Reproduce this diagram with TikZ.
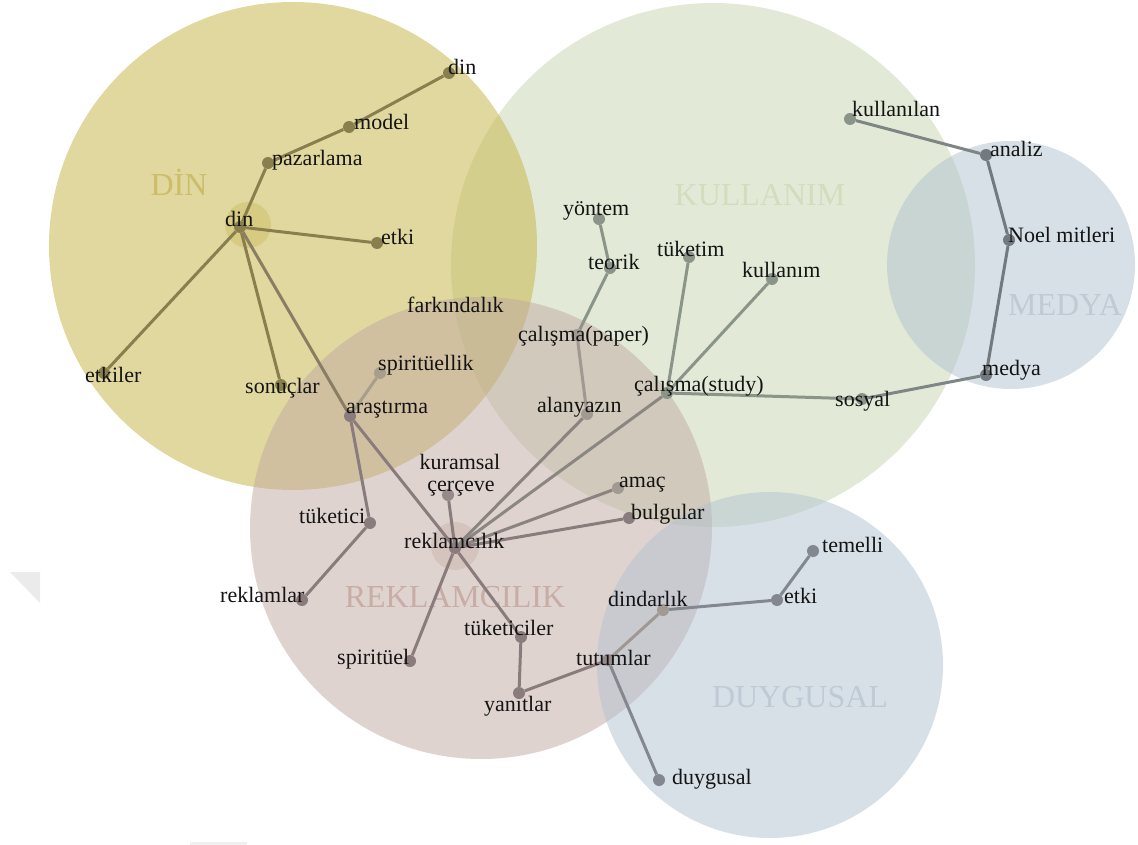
\documentclass[tikz,border=0pt]{standalone}
\usepackage{fontspec}
\setmainfont{Liberation Serif}
% zone fills (drawn at half opacity)
\definecolor{kulz}{RGB}{199,215,177}
\definecolor{dinz}{RGB}{197,179,65}
\definecolor{medz}{RGB}{177,193,209}
\definecolor{rekz}{RGB}{193,169,161}
\definecolor{duyz}{RGB}{179,195,209}
% zone titles
\definecolor{dint}{RGB}{205,189,104}
\definecolor{kult}{RGB}{212,220,190}
\definecolor{medt}{RGB}{192,202,212}
\definecolor{rekt}{RGB}{200,172,165}
\definecolor{duyt}{RGB}{190,202,212}
% hub halos
\definecolor{dinh}{RGB}{214,203,128}
\definecolor{rekh}{RGB}{213,195,190}
% links and dots
\definecolor{dinc}{RGB}{137,127,78}
\definecolor{rekc}{RGB}{138,124,124}
\definecolor{kulc}{RGB}{138,148,136}
\definecolor{medc}{RGB}{114,122,128}
\definecolor{duyc}{RGB}{131,136,144}
\definecolor{paledot}{RGB}{168,158,140}
\definecolor{greydot}{RGB}{160,154,146}
\definecolor{mauvedot}{RGB}{150,138,138}
\definecolor{palelink}{RGB}{160,152,146}
\definecolor{labelc}{RGB}{20,20,20}
\begin{document}
\begin{tikzpicture}[x=1pt,y=-1pt,
  dot/.style={circle,inner sep=0pt,minimum size=12pt,fill=#1},
  lbl/.style={anchor=mid west,inner sep=0pt,font=\fontsize{22}{22}\selectfont,text=labelc},
  big/.style={anchor=center,inner sep=0pt,font=\fontsize{32}{32}\selectfont,text=#1},
  link/.style={line width=3pt,draw=#1},
  zone/.style={fill=#1,fill opacity=0.5}]
\useasboundingbox (0,0) rectangle (1138,845);
\fill[white] (0,0) rectangle (1138,845);

% faint marks at the page edge
\fill[black!8] (10,572) -- (40,572) -- (40,603) -- cycle;
\fill[black!6] (190,842) rectangle (247,845);

% topic zones
\fill[zone=kulz] (713,265) circle[radius=262pt];
\fill[zone=dinz] (293,246) circle[radius=244pt];
\fill[zone=medz] (1011,265) circle[radius=124pt];
\fill[zone=rekz] (481,528) circle[radius=231pt];
\fill[zone=duyz] (770,665) circle[radius=173pt];

% zone titles
\node[big=dint] (tdin) at (179,182) {DİN};
\node[big=kult] (tkul) at (760,195) {KULLANIM};
\node[big=medt] (tmed) at (1065,305) {MEDYA};
\node[big=rekt] (trek) at (455,597) {REKLAMCILIK};
\node[big=duyt] (tduy) at (800,697) {DUYGUSAL};

% hub halos
\fill[dinh] (248,225) circle[radius=23pt];
\fill[rekh] (455,546) circle[radius=24pt];

% term dots
\node[dot=dinc] (dinT) at (449,73) {};
\node[dot=dinc] (model) at (349,127) {};
\node[dot=dinc] (paz) at (268,163) {};
\node[dot=dinc] (dinC) at (240,227) {};
\node[dot=dinc] (etkiA) at (377,243) {};
\node[dot=dinc] (etkiler) at (104,373) {};
\node[dot=dinc] (sonuc) at (281,385) {};
\node[dot=paledot] (spirlik) at (380,373) {};
\node[dot=rekc] (arast) at (350,416) {};
\node[dot=greydot] (paper) at (577,335) {};
\node[dot=greydot] (alan) at (587,414) {};
\node[dot=kulc] (yontem) at (599,219) {};
\node[dot=kulc] (teorik) at (610,268) {};
\node[dot=kulc] (tuketim) at (689,257) {};
\node[dot=kulc] (kullanim) at (772,279) {};
\node[dot=kulc] (study) at (667,393) {};
\node[dot=kulc] (sosyal) at (862,399) {};
\node[dot=kulc] (kullanilan) at (850,119) {};
\node[dot=medc] (analiz) at (986,155) {};
\node[dot=medc] (noel) at (1009,240) {};
\node[dot=medc] (medya) at (986,375) {};
\node[dot=mauvedot] (kuram) at (448,495) {};
\node[dot=rekc] (tuketici) at (370,523) {};
\node[dot=rekc] (rekC) at (455,548) {};
\node[dot=greydot] (amac) at (618,488) {};
\node[dot=rekc] (bulgu) at (629,518) {};
\node[dot=rekc] (reklamlar) at (302,600) {};
\node[dot=rekc] (spiritu) at (410,661) {};
\node[dot=rekc] (tuketiciler) at (521,637) {};
\node[dot=rekc] (yanit) at (519,693) {};
\node[dot=mauvedot] (tutum) at (608,660) {};
\node[dot=greydot] (dindar) at (663,610) {};
\node[dot=duyc] (etkiB) at (777,600) {};
\node[dot=duyc] (temelli) at (813,551) {};
\node[dot=duyc] (duygusal) at (659,780) {};

% links
\draw[link=dinc] (dinT) -- (model);
\draw[link=dinc] (model) -- (paz);
\draw[link=dinc] (paz) -- (dinC);
\draw[link=dinc] (dinC) -- (etkiA);
\draw[link=dinc] (dinC) -- (etkiler);
\draw[link=dinc] (dinC) -- (sonuc);
\draw[link={dinc!55!rekc}] (dinC) -- (arast);
\draw[link=paledot] (arast) -- (spirlik);
\draw[link=rekc] (arast) -- (tuketici);
\draw[link=rekc] (arast) -- (rekC);
\draw[link=rekc] (tuketici) -- (reklamlar);
\draw[link=rekc] (rekC) -- (kuram);
\draw[link={rekc!70!kulc}] (rekC) -- (alan);
\draw[link={rekc!60!kulc}] (rekC) -- (study);
\draw[link={rekc!70!kulc}] (rekC) -- (amac);
\draw[link=rekc] (rekC) -- (bulgu);
\draw[link=rekc] (rekC) -- (spiritu);
\draw[link=rekc] (rekC) -- (tuketiciler);
\draw[link=palelink] (alan) -- (paper);
\draw[link=kulc] (paper) -- (teorik);
\draw[link=kulc] (teorik) -- (yontem);
\draw[link=kulc] (study) -- (tuketim);
\draw[link=kulc] (study) -- (kullanim);
\draw[link=kulc] (study) -- (sosyal);
\draw[link={kulc!45!medc}] (sosyal) -- (medya);
\draw[link=medc] (medya) -- (noel);
\draw[link=medc] (noel) -- (analiz);
\draw[link={kulc!45!medc}] (analiz) -- (kullanilan);
\draw[link=rekc] (tuketiciler) -- (yanit);
\draw[link=rekc] (yanit) -- (tutum);
\draw[link=palelink] (tutum) -- (dindar);
\draw[link=duyc] (tutum) -- (duygusal);
\draw[link=duyc] (dindar) -- (etkiB);
\draw[link=duyc] (etkiB) -- (temelli);

% term labels
\node[lbl] (ldinT) at (448,72) {din};
\node[lbl] (lmodel) at (354,127) {model};
\node[lbl] (lpaz) at (272,163) {pazarlama};
\node[lbl] (ldinC) at (225,224) {din};
\node[lbl] (letkiA) at (381,242) {etki};
\node[lbl] (letkiler) at (85,380) {etkiler};
\node[lbl] (lsonuc) at (245,391) {sonuçlar};
\node[lbl] (lspirlik) at (378,368) {spiritüellik};
\node[lbl] (larast) at (346,411) {araştırma};
\node[lbl] (lfark) at (407,310) {farkındalık};
\node[lbl] (lpaper) at (518,339) {çalışma(paper)};
\node[lbl] (lalan) at (537,410) {alanyazın};
\node[lbl] (lyontem) at (563,213) {yöntem};
\node[lbl] (lteorik) at (588,267) {teorik};
\node[lbl] (ltuketim) at (657,254) {tüketim};
\node[lbl] (lkullanim) at (742,275) {kullanım};
\node[lbl] (lstudy) at (634,389) {çalışma(study)};
\node[lbl] (lsosyal) at (835,404) {sosyal};
\node[lbl] (lkullanilan) at (852,114) {kullanılan};
\node[lbl] (lanaliz) at (990,154) {analiz};
\node[lbl] (lnoel) at (1008,240) {Noel mitleri};
\node[lbl] (lmedya) at (982,373) {medya};
\node[lbl,anchor=mid] (lkuramA) at (460,467) {kuramsal};
\node[lbl,anchor=mid] (lkuramB) at (461,489) {çerçeve};
\node[lbl] (ltuketici) at (299,521) {tüketici};
\node[lbl] (lrekC) at (404,546) {reklamcılık};
\node[lbl] (lamac) at (619,485) {amaç};
\node[lbl] (lbulgu) at (631,517) {bulgular};
\node[lbl] (lreklamlar) at (220,600) {reklamlar};
\node[lbl] (lspiritu) at (337,662) {spiritüel};
\node[lbl] (ltuketiciler) at (464,633) {tüketiciler};
\node[lbl] (lyanit) at (484,709) {yanıtlar};
\node[lbl] (ltutum) at (576,663) {tutumlar};
\node[lbl] (ldindar) at (608,604) {dindarlık};
\node[lbl] (letkiB) at (784,601) {etki};
\node[lbl] (ltemelli) at (822,550) {temelli};
\node[lbl] (lduygusal) at (672,782) {duygusal};
\end{tikzpicture}
\end{document}
